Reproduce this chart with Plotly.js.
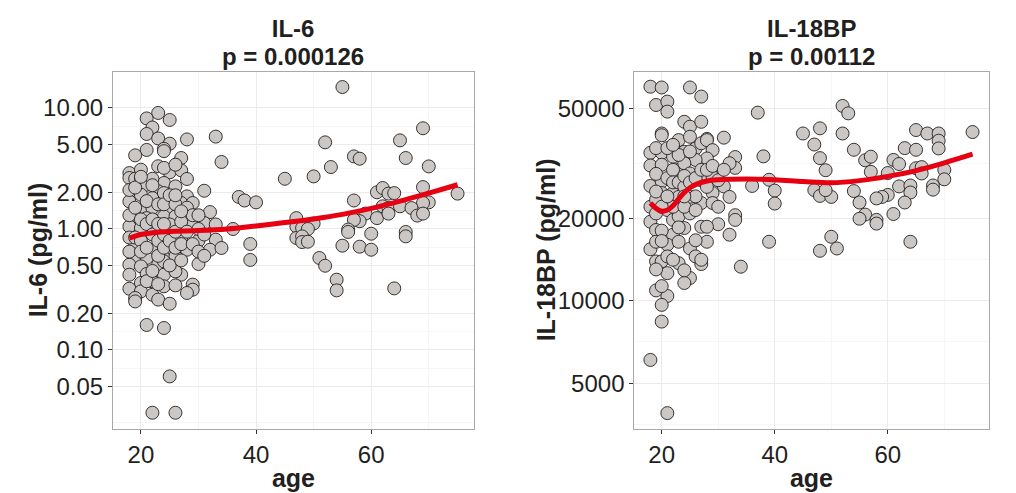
<!DOCTYPE html>
<html>
<head>
<meta charset="utf-8">
<script src="https://cdn.plot.ly/plotly-3.0.1.min.js"></script>
<style>html,body{margin:0;padding:0;background:#fff;}#chart{width:1016px;height:493px;}</style>
</head>
<body>
<div id="chart"></div>
<script>
// ---------- IL-6 panel data ----------
const il6Age = [
  23,21,25,22,21,23,28,33,25,24,24,21,19,27,34,18,20,18,25,27,28,45,31,37,38,40,32,36,39,47,47,47,
  55,69,52,65,57,58,66,53,70,50,69,61,62,63,64,75,57,70,69,62,63,65,67,59,58,57,61,63,68,69,50,48,49,56,56,48,48,49,60,66,66,55,58,60,51,52,54,54,64,
  39,21,24,25,22,26,29,29,27,
  19,21,25,30,33,27,19,22,25,28,32,34,19,21,24,26,30,18,20,23,24,18,21,24,26,20,22,24,26,18,20,22,23,25,28,19,19,
  19,20,21,24,26,23,18,20,22,24,28,20,22,25,27,29,19,21,24,26,28,18,20,22,25,29,31,33,
  18,18,18,18,19,19,19,20,20,20,21,21,21,21,22,22,22,22,23,23,23,23,23,24,24,24,24,25,25,25,26,26,26,26,27,27,27,28,28,29,29,30,30,31,31,23,24,22,20,26,27,30
];
const il6Val = [
  9.1,8.2,7.96,6.9,6.1,5.6,5.5,5.8,5.07,4.6,4.4,4.5,4.06,3.86,3.58,2.9,3.09,2.64,2.94,3.05,2.59,2.6,2.07,1.84,1.72,1.66,1.38,1.0,0.752,1.23,1.05,0.843,
  14.9,6.8,5.2,5.4,3.98,3.81,3.86,3.25,3.29,2.72,2.22,2.01,2.18,1.96,1.98,1.96,1.72,1.66,1.64,1.54,1.49,1.54,1.49,1.34,1.16,1.19,1.23,1.34,1.29,1.34,1.11,1.02,1.0,0.99,0.945,0.869,0.78,0.785,0.914,0.945,0.869,0.728,0.714,0.674,0.576,0.497,0.381,0.311,0.323,
  0.555,0.161,0.152,0.0605,0.0303,0.0303,0.347,0.315,0.419,
  0.99,0.955,0.99,0.80,0.816,0.843,0.742,0.674,0.653,0.674,0.674,0.697,0.594,0.576,0.576,0.594,0.514,0.507,0.491,0.507,0.540,0.419,0.425,0.419,0.446,0.358,0.369,0.336,0.342,0.321,0.305,0.286,0.261,0.241,0.296,0.269,0.252,
  2.6,2.64,2.32,2.40,2.25,2.05,1.69,1.92,1.80,1.98,1.86,1.44,1.49,1.44,1.64,1.64,1.27,1.23,1.27,1.27,1.27,1.05,1.02,1.09,1.09,1.09,1.12,1.09,
  1.3,0.85,0.65,2.1,1.5,0.85,2.2,1.2,0.8,0.65,1.1,0.7,1.7,0.37,1.2,0.9,2.6,0.45,1.6,1.1,0.8,0.6,0.35,1.6,0.9,0.7,1.1,1.9,0.8,0.5,1.6,0.95,0.7,1.9,1.15,0.75,0.55,0.95,1.5,0.75,1.3,1.0,0.65,0.9,0.6,3.3,3.2,2.3,2.7,3.4,1.4,1.3
];
const il6FitAge = [18,20,22,25,30,35,40,45,50,55,60,65,70,75];
const il6Fit    = [0.84,0.90,0.93,0.955,0.97,1.0,1.06,1.13,1.21,1.32,1.48,1.70,1.98,2.32];
const il6Ticks  = [10,5,2,1,0.5,0.2,0.1,0.05];
const il6TickText = ["10.00","5.00","2.00","1.00","0.50","0.20","0.10","0.05"];
const il6Minor  = [0.025,0.0707,0.1414,0.316,0.707,1.414,3.16,7.07];

// ---------- IL-18BP panel data ----------
const bpAge = [
  18,20,25,27,19,21,21,37,52,53, 24,25,27,20,20,31,28,45,48,52,
  47,48,49,65,67,69,69,69,75,54, 56,57,57,63,65,61,62,60,65,66,
  66,70,70,68,68,62,64,64,60,59, 58,63,61,54,55,56,55,58,58,64,
  47,48,50,49,50,48,51,39,40,40, 39,36,38,34,33,33,32,33,33,32,
  30,31,32,30,28,27,25,24,21,19, 20,20,20,18,21,18,19,21,20,23,
  24,18,18,18,18,18,20,20,20,20, 19,19,19,19,21,22,22,21,23,24,
  22,23,25,26,27,28,29,28,26,24, 25,27,29,30,22,23,25,27,29,23,
  25,27,28,22,24,26,23,25,26,27, 24,26,21,22,29,
  19,19,19,20,20,21,21,22,22,23,23,24,24,25,25,26,26,27,28,28,29,30,31,24,21,22,20,23,19
];
const bpVal = [
  60300,59900,59900,55500,51700,53200,48900,48500,51300,48200, 44900,43100,44900,40700,40100,39300,38900,40700,42500,40700,
  37100,33100,29900,41900,40700,40700,38300,35900,41200,35500, 32500,33500,29500,36000,35500,32600,31500,29200,30400,30700,
  29100,30000,27700,26300,25400,26100,26300,24800,24300,23900, 23600,22800,20700,25100,22800,20600,19900,19700,19100,16400,
  25300,24100,23900,25300,17100,15200,15500,27600,25200,22600, 16400,26200,33600,13300,33400,30500,31700,20500,19700,17400,
  29100,26100,23900,19000,16400,13600,12100,11600,10400,10900, 11300,9650,8390,6080,3890,15400,13900,12600,13900,13700,
  12900,34600,31100,26200,22000,19400,34600,31300,27200,24700, 23300,20800,18100,16400,21400,19700,17400,16000,38500,34900,
  33500,30000,39600,35900,37500,38500,35400,33000,32600,31700, 29100,27500,28300,27500,24700,23900,23900,22700,24700,20300,
  20800,18600,18600,22000,22000,21400,16400,15500,14500,14100, 18400,16600,14500,14100,22700,
  29000,25000,36000,22000,18000,28000,36000,30000,27000,27000,34000,26000,28500,27000,35000,28000,24000,30000,26000,30000,31000,22000,30000,24000,24000,37000,16500,18500,13000
];
const bpFitAge = [18,19,20,21,22,23,24,25,26,28,30,35,40,45,50,55,60,65,70,75];
const bpFit    = [22700,21700,21200,21400,22200,23500,24800,25800,26500,27300,27600,27800,27600,27200,26900,27400,28400,29800,31800,34200];
const bpTicks  = [50000,20000,10000,5000];
const bpTickText = ["50000","20000","10000","5000"];
const bpMinor  = [3536,7071,14142,31623];

const titles   = ["IL-6","IL-18BP"];
const pvalues  = ["p = 0.000126","p = 0.00112"];
const yTitles  = ["IL-6 (pg/ml)","IL-18BP (pg/ml)"];
const xTitle   = "age";

// ---------- styling ----------
const FONT = "Liberation Sans, Arial, Helvetica, sans-serif";
const INK = "#231f20";
const marker = {size:13, color:"#cbc7c4", line:{color:INK, width:0.9}};
const fitLine = {color:"#e60012", width:5, shape:"spline"};

const traces = [
  {type:"scatter", mode:"markers", x:il6Age, y:il6Val, xaxis:"x", yaxis:"y", marker:marker, hoverinfo:"x+y"},
  {type:"scatter", mode:"lines", x:il6FitAge, y:il6Fit, xaxis:"x", yaxis:"y", line:fitLine, hoverinfo:"skip"},
  {type:"scatter", mode:"markers", x:bpAge, y:bpVal, xaxis:"x2", yaxis:"y2", marker:marker, hoverinfo:"x+y"},
  {type:"scatter", mode:"lines", x:bpFitAge, y:bpFit, xaxis:"x2", yaxis:"y2", line:fitLine, hoverinfo:"skip"}
];

function xAxis(domain, anchor){
  return {
    domain:domain, anchor:anchor, range:[15.15,77.85], tickmode:"linear", tick0:0, dtick:20,
    ticks:"outside", ticklen:4, tickwidth:1, tickcolor:"#333333",
    showline:true, mirror:true, linecolor:"#a8a8a8", linewidth:1,
    showgrid:true, gridcolor:"#ebebeb", gridwidth:1, zeroline:false,
    minor:{dtick:10, showgrid:true, gridcolor:"#f6f6f6", gridwidth:1, ticks:""},
    tickfont:{family:FONT, size:24, color:INK},
    title:{text:xTitle, font:{family:FONT, size:25, color:INK, weight:700}, standoff:2},
    automargin:false, fixedrange:true
  };
}
function yAxis(domain, anchor, range, tv, tt, minorVals){
  return {
    domain:domain, anchor:anchor, type:"log", range:range,
    tickmode:"array", tickvals:tv, ticktext:tt,
    ticks:"outside", ticklen:4, tickwidth:1, tickcolor:"#333333",
    showline:true, mirror:true, linecolor:"#a8a8a8", linewidth:1,
    showgrid:true, gridcolor:"#ebebeb", gridwidth:1, zeroline:false,
    minor:{tickmode:"array", tickvals:minorVals, showgrid:true, gridcolor:"#f6f6f6", gridwidth:1, ticks:""},
    tickfont:{family:FONT, size:24, color:INK},
    automargin:false, fixedrange:true
  };
}

// two-line panel title: line spacing follows the base size (1.3 x 21.4 px ~ 27.8 px),
// each line drawn at 24 px so the two lines sit close without colliding
function panelTitle(i){
  return '<span style="font-size:24px">' + titles[i] + '</span><br>' +
         '<span style="font-size:24px">' + pvalues[i] + '</span>';
}

const yDom = [0.1298, 0.8546];
const layout = {
  width:1016, height:493, margin:{l:0,r:0,t:0,b:0},
  paper_bgcolor:"#ffffff", plot_bgcolor:"#ffffff", showlegend:false,
  font:{family:FONT, color:INK},
  xaxis: xAxis([0.1112,0.4665], "y"),
  yaxis: yAxis(yDom, "x", [-1.653,1.30], il6Ticks, il6TickText, il6Minor),
  xaxis2: xAxis([0.6243,0.9731], "y2"),
  yaxis2: yAxis(yDom, "x2", [3.532,4.835], bpTicks, bpTickText, bpMinor),
  annotations: [
    {text:panelTitle(0), xref:"x domain", x:0.5, yref:"paper", y:0.9128, xanchor:"center", yanchor:"middle", align:"center", showarrow:false, font:{family:FONT, size:21.4, color:INK, weight:700}},
    {text:panelTitle(1), xref:"x2 domain", x:0.5, yref:"paper", y:0.9128, xanchor:"center", yanchor:"middle", align:"center", showarrow:false, font:{family:FONT, size:21.4, color:INK, weight:700}},
    {text:yTitles[0], xref:"paper", x:38/1016, yref:"y domain", y:0.5, xanchor:"center", yanchor:"middle", textangle:-90, showarrow:false, font:{family:FONT, size:25, color:INK, weight:700}},
    {text:yTitles[1], xref:"paper", x:546/1016, yref:"y2 domain", y:0.5, xanchor:"center", yanchor:"middle", textangle:-90, showarrow:false, font:{family:FONT, size:25, color:INK, weight:700}}
  ]
};

Plotly.newPlot("chart", traces, layout, {displayModeBar:false, staticPlot:true});
</script>
</body>
</html>
